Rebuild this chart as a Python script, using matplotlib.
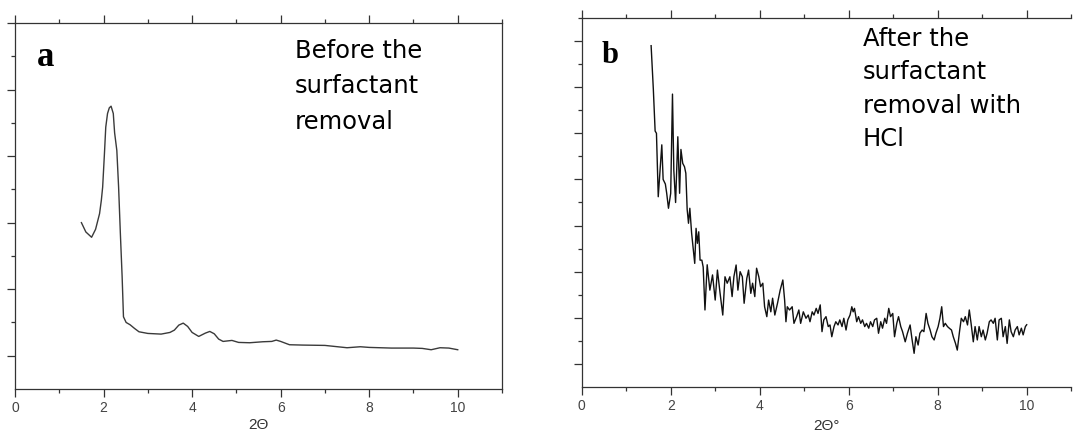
import numpy as np
import matplotlib
matplotlib.use("Agg")
import matplotlib.pyplot as plt
from matplotlib.ticker import FixedLocator

# panel a: before surfactant removal (smooth pattern)
two_theta_a = [1.50, 1.60, 1.73, 1.82, 1.91, 1.95, 1.98, 2.02, 2.05, 2.09, 2.13, 2.17,
               2.22, 2.25, 2.30, 2.34, 2.38, 2.42, 2.45, 2.51, 2.60, 2.70, 2.80, 3.00,
               3.30, 3.50, 3.60, 3.70, 3.80, 3.90, 4.00, 4.15, 4.30, 4.40, 4.50, 4.60,
               4.70, 4.90, 5.05, 5.30, 5.60, 5.80, 5.90, 6.00, 6.20, 6.50, 7.00, 7.50,
               7.80, 8.00, 8.50, 9.00, 9.20, 9.40, 9.60, 9.80, 10.00]
intensity_a = [5.00, 4.72, 4.56, 4.80, 5.27, 5.67, 6.07, 7.07, 7.87, 8.28, 8.45, 8.50,
               8.28, 7.70, 7.17, 6.07, 4.67, 3.37, 2.17, 2.00, 1.93, 1.82, 1.72, 1.67,
               1.65, 1.70, 1.77, 1.92, 1.98, 1.88, 1.70, 1.58, 1.68, 1.73, 1.66, 1.50,
               1.43, 1.46, 1.40, 1.39, 1.42, 1.43, 1.47, 1.43, 1.33, 1.32, 1.31, 1.24,
               1.27, 1.25, 1.23, 1.23, 1.22, 1.18, 1.24, 1.23, 1.18]

# panel b: after surfactant removal with HCl (noisy pattern)
two_theta_b = [1.56, 1.61, 1.65, 1.68, 1.72, 1.76, 1.80, 1.83, 1.88, 1.91, 1.95, 2.00,
               2.04, 2.07, 2.11, 2.16, 2.20, 2.23, 2.27, 2.31, 2.34, 2.37, 2.40, 2.43,
               2.47, 2.51, 2.54, 2.57, 2.60, 2.63, 2.66, 2.70, 2.73, 2.77, 2.82, 2.88,
               2.94, 3.00, 3.05, 3.11, 3.17, 3.22, 3.27, 3.33, 3.38, 3.42, 3.47, 3.51,
               3.56, 3.61, 3.65, 3.71, 3.75, 3.80, 3.84, 3.89, 3.93, 3.98, 4.02, 4.07,
               4.11, 4.16, 4.20, 4.25, 4.29, 4.34, 4.40, 4.46, 4.52, 4.56, 4.59, 4.62,
               4.67, 4.73, 4.77, 4.83, 4.88, 4.92, 4.98, 5.04, 5.09, 5.13, 5.18, 5.22,
               5.27, 5.31, 5.36, 5.40, 5.44, 5.49, 5.54, 5.58, 5.62, 5.67, 5.71, 5.76,
               5.80, 5.85, 5.89, 5.94, 5.98, 6.03, 6.07, 6.10, 6.13, 6.18, 6.22, 6.27,
               6.31, 6.36, 6.40, 6.45, 6.49, 6.54, 6.58, 6.63, 6.67, 6.72, 6.76, 6.81,
               6.85, 6.90, 6.94, 6.99, 7.03, 7.08, 7.12, 7.17, 7.21, 7.27, 7.32, 7.38,
               7.42, 7.47, 7.51, 7.56, 7.60, 7.65, 7.69, 7.74, 7.78, 7.83, 7.87, 7.92,
               7.96, 8.01, 8.05, 8.09, 8.13, 8.17, 8.22, 8.26, 8.31, 8.35, 8.40, 8.44,
               8.49, 8.53, 8.58, 8.62, 8.67, 8.71, 8.75, 8.80, 8.84, 8.89, 8.93, 8.98,
               9.02, 9.07, 9.11, 9.16, 9.20, 9.25, 9.29, 9.34, 9.38, 9.43, 9.47, 9.52,
               9.56, 9.61, 9.65, 9.70, 9.74, 9.79, 9.83, 9.88, 9.92, 9.97, 10.00]
intensity_b = [14.80, 12.90, 11.10, 11.00, 8.25, 9.40, 10.50, 9.00, 8.80, 8.40, 7.75, 8.40,
               12.70, 9.40, 8.00, 10.85, 8.40, 10.30, 9.70, 9.55, 9.27, 7.70, 7.10, 7.75,
               6.67, 5.94, 5.36, 6.88, 6.23, 6.73, 5.50, 5.50, 5.20, 3.34, 5.30, 4.20,
               4.86, 3.77, 5.07, 4.06, 3.12, 4.78, 4.50, 4.78, 3.92, 4.78, 5.29, 4.20,
               5.00, 4.78, 3.63, 4.71, 5.07, 4.06, 4.50, 3.92, 5.15, 4.78, 4.35, 4.50,
               3.48, 3.05, 3.77, 3.26, 3.85, 3.12, 3.63, 4.20, 4.64, 3.77, 2.83, 3.48,
               3.34, 3.48, 2.76, 3.05, 3.34, 2.76, 3.26, 2.98, 3.12, 2.83, 3.26, 3.12,
               3.41, 3.19, 3.56, 2.40, 2.91, 3.05, 2.62, 2.69, 2.18, 2.62, 2.83, 2.69,
               2.91, 2.62, 2.98, 2.47, 2.91, 3.12, 3.48, 3.26, 3.41, 2.83, 3.05, 2.76,
               2.91, 2.62, 2.76, 2.55, 2.83, 2.62, 2.91, 2.98, 2.33, 2.83, 2.55, 2.98,
               2.76, 3.41, 3.05, 3.19, 2.18, 2.76, 3.05, 2.62, 2.40, 1.96, 2.33, 2.69,
               2.11, 1.46, 2.18, 1.82, 2.33, 2.47, 2.40, 3.19, 2.76, 2.47, 2.18, 2.04,
               2.33, 2.62, 2.98, 3.48, 2.62, 2.76, 2.62, 2.55, 2.47, 2.18, 1.89, 1.60,
               2.40, 2.98, 2.83, 3.05, 2.69, 3.34, 2.76, 1.96, 2.62, 2.04, 2.62, 2.18,
               2.47, 2.04, 2.33, 2.83, 2.91, 2.76, 2.98, 2.04, 2.91, 2.98, 2.18, 2.62,
               1.89, 2.91, 2.40, 2.18, 2.47, 2.62, 2.26, 2.55, 2.26, 2.62, 2.70]

x_ticks = [0, 2, 4, 6, 8, 10]
note_a = "Before the\nsurfactant\nremoval"
note_b = "After the\nsurfactant\nremoval with\nHCl"

W, H = 1074, 445
fig = plt.figure(figsize=(W / 100, H / 100), dpi=100)
fig.patch.set_facecolor("white")


def style_axes(ax, ymax):
    ax.set_xlim(0, 11)
    ax.set_ylim(0, ymax)
    ax.xaxis.set_major_locator(FixedLocator(x_ticks))
    ax.xaxis.set_minor_locator(FixedLocator([1, 3, 5, 7, 9, 11]))
    ax.yaxis.set_major_locator(FixedLocator(list(range(1, ymax + 1, 2))))
    ax.yaxis.set_minor_locator(FixedLocator(list(range(2, ymax + 1, 2))))
    ax.set_yticklabels([])
    ax.tick_params(which="both", direction="out", top=True, right=False,
                   color="#333333", width=0.9)
    ax.tick_params(which="major", length=6)
    ax.tick_params(which="minor", length=3)
    ax.tick_params(axis="x", which="major", labelsize=10, labelcolor="#444444", pad=3)
    for lab in ax.get_xticklabels():
        lab.set_fontfamily("Liberation Sans")
    for s in ax.spines.values():
        s.set_color("#333333")
        s.set_linewidth(0.9)


ax1 = fig.add_axes([15 / W, 1 - 389 / H, 487 / W, 366 / H])
ax1.plot(two_theta_a, intensity_a, color="#3a3a3a", lw=1.0)
style_axes(ax1, 11)
ax1.set_xlabel("2\u0398", fontsize=11, color="#333333", family="Liberation Sans", labelpad=2)
ax1.text(22 / 487, 1 - 34 / 366, "a", transform=ax1.transAxes, fontsize=25,
         fontweight="bold", family="Liberation Serif", va="center", ha="left")
ax1.text(280 / 487, 1 - 16 / 366, note_a, transform=ax1.transAxes, fontsize=17.5,
         family="DejaVu Sans", va="top", ha="left", linespacing=1.6)

ax2 = fig.add_axes([581.7 / W, 1 - 387 / H, 489.5 / W, 369 / H])
ax2.plot(two_theta_b, intensity_b, color="#111111", lw=1.0)
style_axes(ax2, 16)
ax2.spines["right"].set_visible(False)
ax2.set_xlabel("2\u0398\u00b0", fontsize=11, color="#333333", family="Liberation Sans", labelpad=4)
ax2.text(20 / 489.5, 1 - 38 / 369, "b", transform=ax2.transAxes, fontsize=22,
         fontweight="bold", family="Liberation Serif", va="center", ha="left")
ax2.text(281 / 489.5, 1 - 9 / 369, note_b, transform=ax2.transAxes, fontsize=17.5,
         family="DejaVu Sans", va="top", ha="left", linespacing=1.5)

fig.savefig("out.png", dpi=100)
